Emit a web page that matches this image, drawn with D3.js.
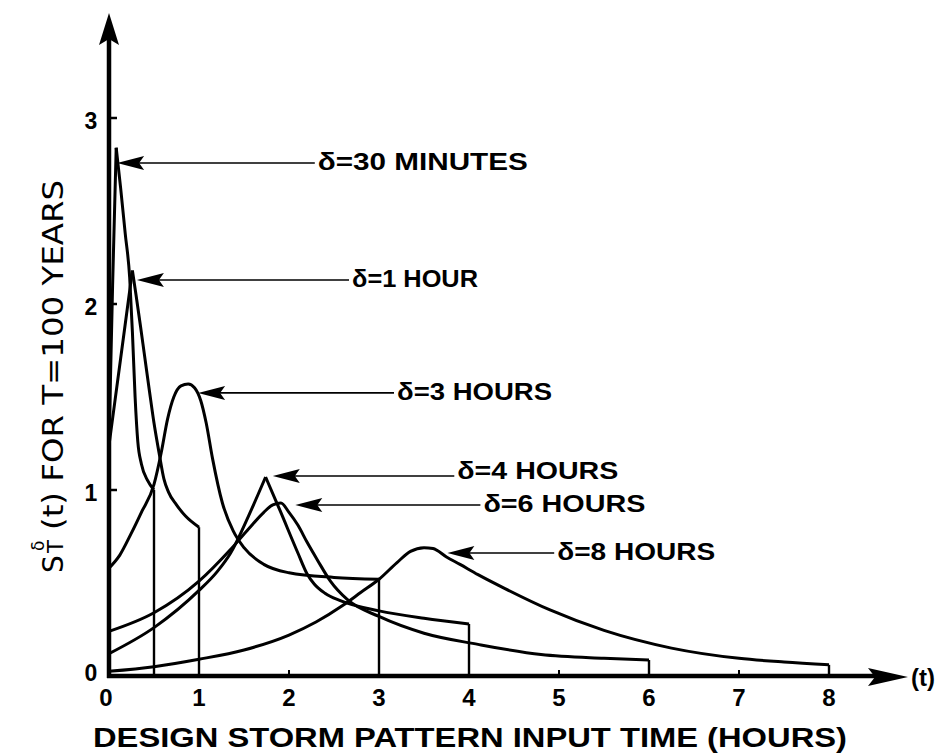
<!DOCTYPE html>
<html><head><meta charset="utf-8">
<script src="https://cdn.jsdelivr.net/npm/d3@7"></script>
<style>body{margin:0;background:#fff}svg{display:block}</style>
</head><body><svg id="chart" width="951" height="754"></svg>
<script>
// ---- data (t in hours, S value) ----
const durations = [0.5, 1, 3, 4, 6, 8];
const seriesLabels = ["δ=30 MINUTES", "δ=1 HOUR", "δ=3 HOURS", "δ=4 HOURS", "δ=6 HOURS", "δ=8 HOURS"];
const storm30min = [[0,1.25],[0.04,2.1],[0.08,2.84],[0.13,2.62],[0.18,2.38],[0.23,2.14],[0.26,1.85],[0.29,1.5],[0.32,1.26],[0.36,1.14],[0.43,1.05],[0.5,1.0]];
const storm1hr = [[0,1.24],[0.13,1.71],[0.26,2.18],[0.3,2.05],[0.35,1.88],[0.39,1.74],[0.45,1.53],[0.5,1.36],[0.56,1.19],[0.61,1.06],[0.66,0.99],[0.75,0.92],[0.85,0.86],[1.0,0.8]];
const storm3hr = [[0,0.58],[0.12,0.65],[0.24,0.76],[0.36,0.88],[0.5,1.03],[0.58,1.2],[0.65,1.38],[0.72,1.5],[0.8,1.56],[0.88,1.57],[0.95,1.55],[1.02,1.48],[1.08,1.36],[1.15,1.17],[1.26,0.93],[1.38,0.78],[1.5,0.69],[1.72,0.6],[2.0,0.555],[2.5,0.53],[3.0,0.52]];
const storm4hr = [[0,0.12],[0.5,0.26],[1.0,0.46],[1.2,0.56],[1.35,0.66],[1.55,0.86],[1.74,1.07],[1.9,0.89],[2.1,0.66],[2.2,0.55],[2.28,0.495],[2.4,0.445],[2.57,0.405],[3.0,0.35],[3.5,0.31],[4.0,0.28]];
const storm6hr = [[0,0.24],[0.5,0.34],[1.0,0.51],[1.35,0.68],[1.55,0.79],[1.72,0.88],[1.82,0.92],[1.91,0.93],[2.0,0.88],[2.1,0.81],[2.2,0.72],[2.32,0.62],[2.46,0.51],[2.65,0.41],[3.0,0.32],[3.5,0.23],[4.1,0.17],[4.8,0.115],[5.5,0.095],[6.0,0.086]];
const storm8hr = [[0,0.025],[0.5,0.05],[1.0,0.09],[1.5,0.14],[2.0,0.22],[2.3,0.29],[2.6,0.38],[2.8,0.45],[3.0,0.52],[3.2,0.61],[3.35,0.67],[3.5,0.69],[3.6,0.685],[3.75,0.64],[3.9,0.6],[4.1,0.545],[4.4,0.47],[4.9,0.355],[5.5,0.245],[6.25,0.15],[7.0,0.095],[7.5,0.075],[8.0,0.06]];
const allStorms = [storm30min, storm1hr, storm3hr, storm4hr, storm6hr, storm8hr];
const sharpPeak = [true, true, false, true, false, false];
// annotation anchors (data units): arrow tip and label start
const arrowTipT = [0.09, 0.31, 0.99, 1.82, 2.07, 3.76];
const arrowTipV = [2.758, 2.129, 1.522, 1.075, 0.919, 0.661];
const labelStartT = [2.32, 2.70, 3.20, 3.87, 4.16, 4.98];
const xTickValues = [0,1,2,3,4,5,6,7,8];
const yTickValues = [0,1,2,3];
const xTitle = "DESIGN STORM PATTERN INPUT TIME (HOURS)";
const yTitleRest = "(t) FOR T=100 YEARS";

// ---- drawing ----
const svg = d3.select("#chart");
const x = d3.scaleLinear().domain([0, 8]).range([109, 829]);
const y = d3.scaleLinear().domain([0, 3]).range([676, 118]);
const boldFont = "'Liberation Sans', Arial, sans-serif";

svg.append("rect").attr("width", 951).attr("height", 754).attr("fill", "#fff");

const line = d3.line().x(d => x(d[0])).y(d => y(d[1])).curve(d3.curveMonotoneX);
const g = svg.append("g");

allStorms.forEach((pts, i) => {
  let segs;
  if (sharpPeak[i]) {
    const k = d3.maxIndex(pts, d => d[1]);
    segs = [pts.slice(0, k + 1), pts.slice(k)];
  } else segs = [pts];
  segs.forEach(s => g.append("path").attr("d", line(s)).attr("fill", "none")
    .attr("stroke", "#000").attr("stroke-width", 3).attr("stroke-linejoin", "round"));
  const last = pts[pts.length - 1];
  g.append("line").attr("x1", x(durations[i])).attr("x2", x(durations[i]))
    .attr("y1", y(last[1])).attr("y2", y(0)).attr("stroke", "#000").attr("stroke-width", 2.4);
  g.append("line").attr("x1", x(0)).attr("x2", x(0))
    .attr("y1", y(pts[0][1])).attr("y2", y(0)).attr("stroke", "#000").attr("stroke-width", 3);
});

// axes
const ax = svg.append("g");
ax.append("line").attr("x1", x(0)).attr("x2", x(0)).attr("y1", y(0) + 2).attr("y2", 30)
  .attr("stroke", "#000").attr("stroke-width", 4.5);
ax.append("path").attr("d", `M${x(0)},13 L${x(0)+10},45 L${x(0)},39 L${x(0)-10},45 Z`).attr("fill", "#000");
ax.append("line").attr("x1", x(0) - 2).attr("x2", 885).attr("y1", y(0)).attr("y2", y(0))
  .attr("stroke", "#000").attr("stroke-width", 4.5);
ax.append("path").attr("d", `M908,${y(0)+1} L868,${y(0)-8} L875,${y(0)+1} L868,${y(0)+10} Z`).attr("fill", "#000");

// ticks
ax.selectAll(".yt").data(yTickValues.filter(v => v > 0)).enter().append("line")
  .attr("x1", x(0)).attr("x2", x(0) + 8).attr("y1", d => y(d)).attr("y2", d => y(d))
  .attr("stroke", "#000").attr("stroke-width", 2.5);
ax.selectAll(".xt").data(xTickValues.filter(v => v > 0)).enter().append("line")
  .attr("x1", d => x(d)).attr("x2", d => x(d)).attr("y1", y(0)).attr("y2", y(0) - 6)
  .attr("stroke", "#000").attr("stroke-width", 2);

// tick labels
ax.selectAll(".xl").data(xTickValues).enter().append("text")
  .attr("x", d => x(d) - (d === 0 ? 3 : 0)).attr("y", 706).attr("text-anchor", "middle")
  .attr("font-family", boldFont).attr("font-weight", "bold").attr("font-size", 24).text(d => d);
ax.selectAll(".yl").data(yTickValues).enter().append("text")
  .attr("x", 91).attr("y", d => y(d) + (d === 0 ? 5 : 11)).attr("text-anchor", "middle")
  .attr("font-family", boldFont).attr("font-weight", "bold").attr("font-size", 23).text(d => d);

// (t)
svg.append("text").attr("x", 911).attr("y", 686).attr("font-family", boldFont)
  .attr("font-weight", "bold").attr("font-size", 24).text("(t)");

// x title
svg.append("text").attr("x", 93).attr("y", 747).attr("font-family", boldFont)
  .attr("font-weight", "bold").attr("font-size", 27).attr("textLength", 754)
  .attr("lengthAdjust", "spacingAndGlyphs").text(xTitle);

// y title (rotated)
const yt = svg.append("g").attr("transform", "translate(63,573) rotate(-90)")
  .attr("font-family", "'DejaVu Sans', sans-serif").attr("fill", "#000");
yt.append("text").attr("x", 0).attr("y", 0).attr("font-size", 28).text("S");
yt.append("text").attr("x", 20).attr("y", 0).attr("font-size", 21).text("T");
yt.append("text").attr("x", 22).attr("y", -19).attr("font-size", 17).text("δ");
yt.append("text").attr("x", 43).attr("y", 0).attr("font-size", 28)
  .attr("textLength", 350).attr("lengthAdjust", "spacingAndGlyphs").text(yTitleRest);

// annotations
const labelWidths = [210, 126, 155, 161, 162, 158];
const an = svg.append("g");
seriesLabels.forEach((lab, i) => {
  const tx = x(arrowTipT[i]), ty = y(arrowTipV[i]), sx = x(labelStartT[i]);
  an.append("line").attr("x1", tx + 20).attr("x2", sx - 3).attr("y1", ty).attr("y2", ty)
    .attr("stroke", "#000").attr("stroke-width", 1.6);
  an.append("path").attr("d", `M${tx},${ty} L${tx+27},${ty-7} L${tx+22},${ty} L${tx+27},${ty+7} Z`)
    .attr("fill", "#000");
  an.append("text").attr("x", sx).attr("y", ty + (i === 3 ? 3 : 7))
    .attr("font-family", boldFont).attr("font-weight", "bold").attr("font-size", 24)
    .attr("textLength", labelWidths[i]).attr("lengthAdjust", "spacingAndGlyphs").text(lab);
});
</script></body></html>
